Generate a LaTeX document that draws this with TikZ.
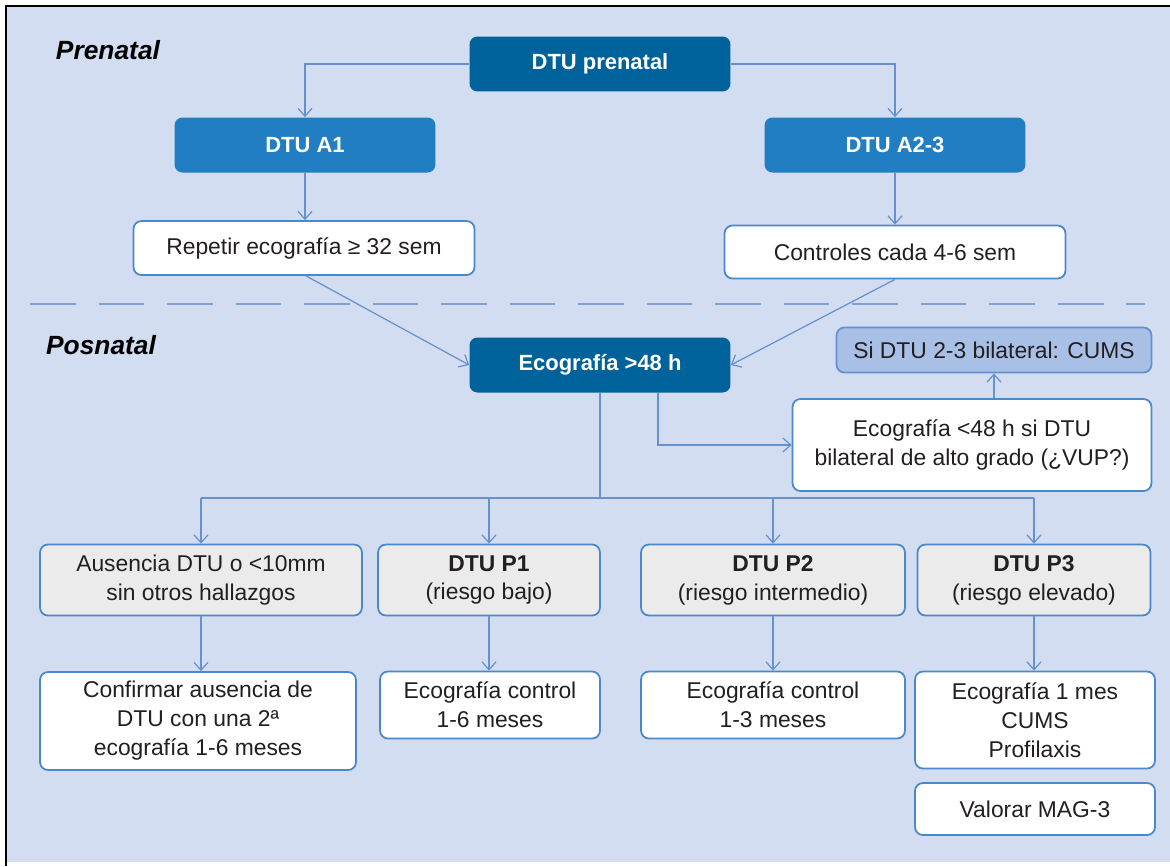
\documentclass[tikz,border=0pt]{standalone}
\usepackage{fontspec}
\setmainfont{Liberation Sans}
\usetikzlibrary{arrows.meta,positioning}
\definecolor{bgblue}{HTML}{D2DDF1}
\definecolor{darkblue}{HTML}{00629A}
\definecolor{midblue}{HTML}{217EC3}
\definecolor{paleblue}{HTML}{A8C0E6}
\definecolor{boxline}{HTML}{4A88CC}
\definecolor{arrline}{HTML}{6690CE}
\definecolor{dashblue}{HTML}{7FA0D6}
\definecolor{lightgrey}{HTML}{EBEBEB}
\definecolor{txt}{HTML}{231F20}
\tikzset{
  flow/.style={rounded corners=4.5pt,align=center,inner sep=2pt,text=txt,font=\fontsize{13}{16.5}\selectfont},
  darkbox/.style={flow,fill=darkblue,text=white,font=\fontsize{12.5}{16}\selectfont\bfseries,minimum width=5.22cm,minimum height=1.1cm},
  midbox/.style={darkbox,fill=midblue},
  whitebox/.style={flow,draw=boxline,line width=1pt,fill=white},
  greybox/.style={whitebox,fill=lightgrey},
  cumsbox/.style={whitebox,fill=paleblue,draw=arrline},
  link/.style={draw=arrline,line width=0.7pt,-{Straight Barb[length=4.5pt,width=8pt]}},
  phase/.style={text=black,font=\fontsize{15}{18}\selectfont\bfseries\itshape}
}

\begin{document}
\begin{tikzpicture}[x=0.02cm,y=-0.02cm]
	\useasboundingbox (0,0) rectangle (1170,866);
	\fill[bgblue] (6,6) rectangle (1170,862);
	\draw[line width=1.2pt] (6,866) -- (6,6) -- (1170,6);
	
	\node[phase] (prelabel) at (108,50) {Prenatal};
	\node[phase] (poslabel) at (101,345) {Posnatal};
	
	% prenatal
	\node[darkbox] (pre) at (600,64) {DTU prenatal};
	\node[midbox] (a1) at (305,145) {DTU A1};
	\node[midbox] (a23) at (895,145) {DTU A2-3};
	\node[whitebox,minimum width=6.82cm,minimum height=1.08cm] (rep) at (304,248) {Repetir ecografía ≥ 32 sem};
	\node[whitebox,minimum width=6.82cm,minimum height=1.06cm] (ctl) at (895,252) {Controles cada 4-6 sem};
	
	\draw[dashblue,line width=1.1pt,dash pattern=on 26pt off 13pt] (30,304) -- (1145,304);
	
	% posnatal
	\node[darkbox] (eco) at (600,365) {Ecografía >48 h};
	\node[cumsbox,minimum width=6.3cm,minimum height=0.9cm] (cums) at (994,350) {Si DTU 2-3 bilateral: CUMS};
	\node[whitebox,minimum width=7.18cm,minimum height=1.84cm] (eco48) at (972,445) {Ecografía <48 h si DTU\\bilateral de alto grado (¿VUP?)};
	
	\node[greybox,minimum width=6.44cm,minimum height=1.42cm] (aus) at (201,580) {Ausencia DTU o <10mm\\sin otros hallazgos};
	\node[greybox,minimum width=4.44cm,minimum height=1.42cm] (p1) at (489,580) {\textbf{DTU P1}\\(riesgo bajo)};
	\node[greybox,minimum width=5.28cm,minimum height=1.42cm] (p2) at (773,580) {\textbf{DTU P2}\\(riesgo intermedio)};
	\node[greybox,minimum width=4.66cm,minimum height=1.42cm] (p3) at (1034,580) {\textbf{DTU P3}\\(riesgo elevado)};
	
	\node[whitebox,minimum width=6.32cm,minimum height=1.96cm] (conf) at (198,721) {Confirmar ausencia de\\DTU con una 2ª\\ecografía 1-6 meses};
	\node[whitebox,minimum width=4.4cm,minimum height=1.34cm] (c16) at (490,705) {Ecografía control\\1-6 meses};
	\node[whitebox,minimum width=5.28cm,minimum height=1.34cm] (c13) at (773,705) {Ecografía control\\1-3 meses};
	\node[whitebox,minimum width=4.8cm,minimum height=1.94cm] (mes) at (1035,720) {Ecografía 1 mes\\CUMS\\Profilaxis};
	\node[whitebox,minimum width=4.8cm,minimum height=1.04cm] (mag) at (1035,809) {Valorar MAG-3};
	
	\coordinate (bus) at (600,498);
	
	\draw[link] (pre.west) -| (a1.north);
	\draw[link] (pre.east) -| (a23.north);
	\draw[link] (a1.south) -- (a1.south |- rep.north);
	\draw[link] (a23.south) -- (ctl.north);
	\draw[link] ([xshift=0.04cm]rep.south) -- (eco.west); % into eco
	\draw[link] (ctl.south) -- (eco.east);
	\draw[link] ([xshift=1.16cm]eco.south) |- (eco48.west);
	\draw[link] (cums.south |- eco48.north) -- (cums.south);
	
	\draw[arrline,line width=0.7pt] (eco.south) -- (bus);
	\draw[arrline,line width=0.7pt] (aus.north |- bus) -- (p3.north |- bus); % bus line
	\foreach \n in {aus,p1,p2,p3}
		\draw[link] (\n.north |- bus) -- (\n.north);
	\foreach \a/\b in {aus/conf,p1/c16,p2/c13,p3/mes}
		\draw[link] (\a.south) -- (\a.south |- \b.north);
\end{tikzpicture}
\end{document}
